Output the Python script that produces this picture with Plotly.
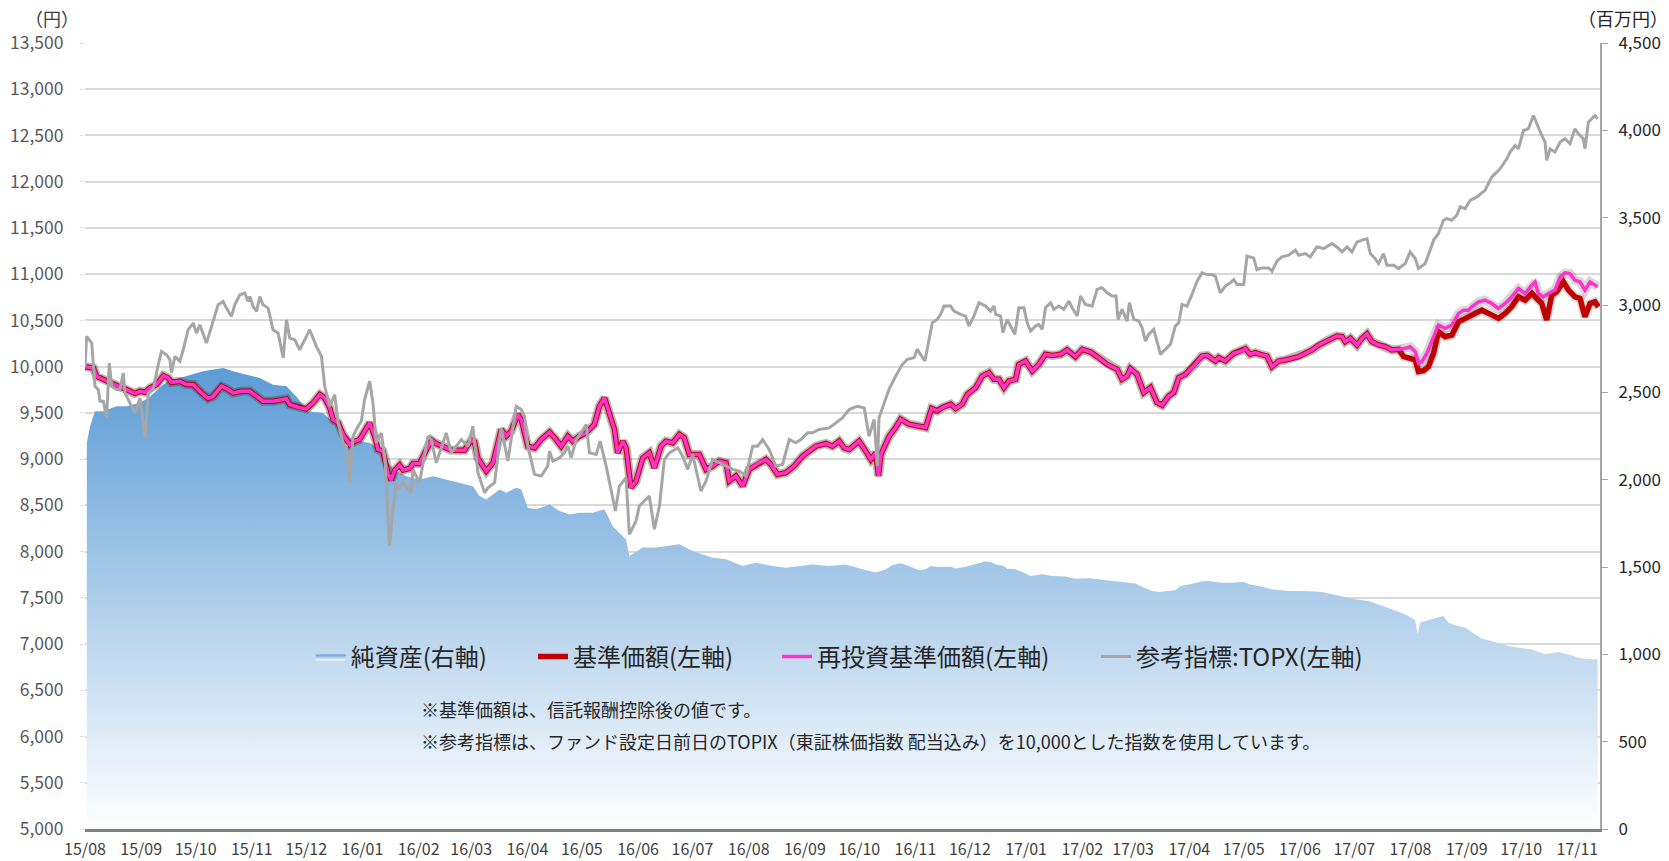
import pandas as pd
import plotly.graph_objects as go

START = pd.Timestamp("2015-08-01")

# ---- data (day offsets from 2015-08-01, values) ----
# 参考指標：TOPIX (left axis, yen-index)
topix_days = [0, 0.9, 3.7, 4.6, 5.5, 7.3, 8.3, 10.1, 11.9, 13.4, 14.7, 17.4, 19.3, 21.1, 22.0, 24.8, 27.5, 30.3,
              33.1, 34.9, 37.6, 40.4, 42.2, 45.0, 46.8, 47.7, 49.6, 52.3, 54.2, 56.9, 59.7, 61.5, 63.3, 67.0, 70.7,
              73.4, 76.2, 78.0, 80.8, 82.6, 85.4, 88.1, 90.0, 90.9, 92.7, 94.6, 96.4, 98.2, 101.0, 103.7, 106.5,
              109.3, 111.1, 112.9, 115.7, 118.4, 122.1, 123.9, 127.6, 130.4, 132.2, 135.0, 137.7, 139.6, 142.3,
              144.1, 146.0, 147.8, 150.6, 152.4, 154.2, 157.0, 158.8, 160.7, 163.4, 165.3, 168.0, 169.8, 171.7,
              173.5, 175.4, 178.1, 180.0, 180.9, 184.5, 186.4, 189.1, 191.0, 193.7, 195.6, 199.2, 202.0, 204.7,
              207.5, 211.2, 213.9, 216.7, 220.4, 222.2, 225.9, 229.5, 233.2, 235.0, 237.8, 240.6, 242.4, 244.2,
              247.9, 251.6, 255.2, 256.2, 258.0, 261.7, 264.4, 266.3, 268.1, 270.9, 273.6, 276.4, 278.2, 281.9,
              284.1, 287.4, 290.1, 292.5, 294.7, 298.4, 300.2, 303.9, 305.7, 309.4, 311.2, 314.0, 316.8, 319.5,
              322.3, 326.9, 329.6, 332.4, 335.1, 339.7, 342.5, 346.1, 349.8, 352.6, 357.2, 360.8, 364.5, 368.2,
              370.9, 373.7, 377.3, 381.0, 384.7, 388.4, 392.0, 394.8, 398.5, 401.2, 404.9, 410.4, 414.1, 417.7,
              421.4, 426.0, 429.7, 432.4, 435.2, 437.0, 437.9, 439.7, 443.4, 447.1, 450.8, 453.5, 457.2, 459.0,
              463.2, 467.3, 470.0, 471.9, 473.7, 477.4, 479.2, 482.9, 485.6, 487.5, 490.2, 493.0, 496.7, 499.4,
              501.3, 502.2, 504.9, 506.2, 508.6, 510.4, 512.8, 515.0, 517.8, 519.6, 521.5, 524.2, 526.0, 527.9,
              529.7, 532.5, 534.3, 537.1, 539.8, 542.6, 544.4, 547.2, 549.0, 551.7, 555.4, 558.2, 560.9, 563.7,
              566.4, 568.6, 569.7, 571.9, 574.7, 576.0, 578.4, 581.1, 583.0, 584.8, 586.6, 589.4, 593.1, 595.8,
              598.6, 601.3, 603.2, 605.0, 607.8, 610.5, 613.3, 616.0, 618.8, 621.5, 623.4, 626.1, 628.9, 631.6,
              633.5, 635.3, 639.0, 640.8, 644.5, 646.3, 649.1, 652.7, 654.6, 657.3, 660.1, 663.8, 667.5, 669.3,
              673.0, 675.7, 679.4, 683.1, 687.7, 690.4, 693.2, 696.0, 698.7, 701.5, 704.2, 707.0, 708.8, 711.5,
              713.4, 716.1, 718.0, 721.7, 724.4, 728.1, 730.8, 733.6, 735.4, 739.1, 741.8, 743.7, 746.4, 749.2,
              751.0, 753.8, 756.5, 758.4, 761.1, 763.9, 767.6, 772.1, 775.8, 780.4, 784.1, 785.9, 788.7, 790.5,
              793.3, 796.0, 798.8, 800.6, 803.4, 805.2, 806.1, 808.0, 810.7, 813.5, 816.2, 818.9, 821.7, 823.6,
              826.3, 827.2, 829.1, 832.7, 834.2]
topix_vals = [10000, 10327, 10255, 10040, 9788, 9752, 9626, 9626, 9446, 10040, 9788, 9752, 9752, 9932, 9716, 9608,
              9500, 9662, 9230, 9716, 9752, 10022, 10165, 10129, 10076, 9932, 10112, 10058, 10183, 10399, 10471,
              10363, 10453, 10255, 10507, 10669, 10705, 10633, 10543, 10669, 10777, 10795, 10705, 10759, 10651,
              10597, 10759, 10669, 10633, 10399, 10363, 10094, 10507, 10309, 10291, 10183, 10327, 10399, 10219,
              10112, 9788, 9572, 9698, 9392, 9176, 9140, 8745, 9248, 9356, 9410, 9644, 9842, 9608, 9176, 9284,
              9032, 8061, 8457, 8745, 8673, 8763, 8673, 8637, 8889, 8745, 8960, 9248, 9212, 8960, 9068, 9284,
              9068, 9140, 9212, 9140, 9356, 8853, 8637, 8691, 8745, 9338, 8979, 9212, 9572, 9536, 9464, 9140,
              8835, 8817, 8925, 9086, 8979, 9014, 9068, 9140, 9014, 9212, 9284, 9374, 9068, 9050, 9194, 8925,
              8673, 8439, 8709, 8799, 8187, 8331, 8493, 8565, 8601, 8241, 8493, 8996, 9068, 9122, 9032, 8889,
              9050, 8655, 8763, 8996, 8960, 8925, 8889, 8871, 8817, 9140, 9140, 9212, 9104, 8925, 8942, 9212,
              9176, 9212, 9284, 9284, 9320, 9338, 9392, 9446, 9536, 9572, 9554, 9248, 9428, 8925, 9446, 9540,
              9755, 9899, 10025, 10079, 10097, 10187, 10061, 10475, 10511, 10565, 10655, 10655, 10601, 10565,
              10547, 10439, 10547, 10691, 10655, 10601, 10655, 10565, 10547, 10367, 10511, 10439, 10349, 10637,
              10637, 10475, 10385, 10439, 10457, 10403, 10637, 10691, 10619, 10655, 10619, 10709, 10637, 10547,
              10763, 10673, 10655, 10835, 10853, 10799, 10763, 10763, 10511, 10619, 10493, 10691, 10511, 10493,
              10421, 10277, 10349, 10403, 10133, 10187, 10241, 10439, 10475, 10673, 10655, 10781, 10924, 11014,
              10996, 10996, 10978, 10799, 10871, 10907, 10942, 10889, 10889, 11194, 11176, 11050, 11068, 11068,
              11032, 11140, 11187, 11205, 11259, 11205, 11223, 11187, 11295, 11277, 11331, 11295, 11241, 11295,
              11241, 11349, 11367, 11385, 11223, 11169, 11115, 11223, 11097, 11097, 11061, 11115, 11241, 11169,
              11061, 11115, 11259, 11367, 11439, 11583, 11601, 11583, 11637, 11727, 11709, 11799, 11835, 11907,
              12050, 12140, 12248, 12320, 12392, 12356, 12554, 12572, 12716, 12626, 12500, 12428, 12230, 12356,
              12320, 12428, 12464, 12410, 12572, 12518, 12464, 12356, 12644, 12716, 12680]

# 基準価額 / 再投資基準価額 (identical until late July 2017)
nav_days = [0, 4.6, 6.4, 10.1, 13.8, 18.4, 23.0, 27.5, 30.3, 33.1, 35.8, 39.5, 43.2, 45.9, 47.7, 52.3, 56.0, 59.7,
            63.3, 67.9, 70.7, 75.3, 79.0, 81.7, 86.3, 90.9, 94.6, 98.2, 103.7, 108.3, 111.1, 112.9, 118.4, 122.1,
            125.8, 129.5, 132.2, 135.0, 136.8, 139.6, 142.3, 146.0, 148.7, 151.5, 154.2, 157.0, 159.7, 161.6,
            164.3, 167.1, 168.9, 170.8, 173.5, 175.4, 179.0, 180.9, 184.5, 188.2, 191.0, 193.7, 197.4, 202.0,
            205.7, 209.3, 213.0, 214.8, 216.7, 221.3, 225.0, 229.5, 232.3, 235.0, 238.7, 240.6, 244.2, 247.9,
            251.6, 256.2, 259.8, 262.6, 266.3, 269.0, 272.7, 276.4, 280.9, 283.7, 286.5, 289.2, 292.0, 293.8,
            296.6, 298.4, 301.1, 303.9, 307.6, 311.2, 314.0, 317.7, 320.4, 324.1, 327.8, 330.5, 333.3, 338.8,
            342.5, 346.1, 349.8, 353.5, 355.3, 359.0, 362.7, 366.3, 371.8, 375.5, 378.3, 381.9, 386.5, 391.1,
            395.7, 399.4, 403.1, 408.6, 412.2, 415.9, 418.7, 421.4, 426.9, 430.6, 433.4, 436.1, 437.6, 438.9,
            443.5, 447.1, 449.8, 454.4, 459.0, 463.6, 466.9, 470.0, 472.8, 477.4, 480.1, 483.8, 486.6, 491.2,
            494.8, 498.5, 501.3, 504.0, 506.8, 509.5, 513.2, 515.0, 518.7, 522.4, 526.0, 529.7, 533.4, 538.0,
            541.6, 546.2, 549.9, 554.5, 558.2, 563.7, 569.2, 571.9, 574.7, 576.5, 580.2, 583.9, 587.6, 591.2,
            594.0, 597.7, 600.4, 603.2, 606.8, 611.4, 616.0, 618.8, 623.4, 625.2, 628.9, 633.5, 638.1, 639.9,
            642.6, 645.4, 648.2, 651.8, 654.6, 658.3, 662.0, 665.6, 669.3, 673.0, 676.7, 680.3, 684.0, 687.7,
            690.4, 693.2, 695.0, 697.8, 701.5, 704.2, 707.0, 709.7, 713.4, 717.1, 720.7, 724.4]
nav_vals = [10000, 9986, 9896, 9860, 9824, 9788, 9752, 9709, 9734, 9723, 9770, 9806, 9903, 9878, 9831, 9842, 9806,
            9806, 9734, 9655, 9680, 9788, 9752, 9716, 9734, 9734, 9680, 9626, 9626, 9637, 9651, 9590, 9554, 9543,
            9608, 9698, 9662, 9554, 9428, 9392, 9266, 9158, 9194, 9212, 9302, 9392, 9248, 9104, 9086, 8845, 8773,
            8881, 8935, 8881, 8899, 8953, 8953, 9097, 9205, 9169, 9133, 9097, 9097, 9097, 9205, 9187, 9007, 8870,
            8960, 9320, 9248, 9302, 9482, 9428, 9140, 9122, 9212, 9291, 9212, 9140, 9248, 9194, 9248, 9284, 9374,
            9572, 9662, 9500, 9320, 9068, 9194, 9122, 8691, 8763, 9014, 9068, 8906, 9140, 9194, 9176, 9266, 9230,
            9050, 9050, 8889, 8925, 8978, 8960, 8763, 8817, 8709, 8889, 8960, 8996, 8942, 8835, 8853, 8925, 9032,
            9086, 9140, 9169, 9140, 9194, 9122, 9104, 9194, 9086, 8996, 9068, 8817, 9050, 9248, 9342, 9432, 9378,
            9360, 9342, 9547, 9522, 9558, 9594, 9547, 9594, 9701, 9773, 9899, 9935, 9863, 9863, 9773, 9845, 9863,
            10025, 10061, 9953, 10025, 10133, 10122, 10133, 10180, 10108, 10187, 10158, 10108, 10025, 9971, 9863,
            9899, 9978, 9917, 9719, 9773, 9612, 9583, 9683, 9719, 9881, 9917, 10007, 10115, 10122, 10061, 10097,
            10061, 10144, 10169, 10194, 10133, 10151, 10133, 10115, 10000, 10061, 10072, 10090, 10108, 10144,
            10180, 10234, 10270, 10306, 10331, 10324, 10270, 10306, 10234, 10306, 10353, 10270, 10234, 10216,
            10180, 10187]

# 基準価額 after divergence
nav_tail_days = [727.2, 730.8, 733.6, 735.4, 738.2, 740.9, 743.7, 746.4, 750.1, 753.8, 757.5, 760.2, 763.0, 766.6,
                 770.3, 774.0, 779.5, 783.2, 786.8, 790.5, 794.2, 797.9, 799.7, 803.4, 806.1, 808.9, 811.6, 815.3,
                 818.1, 821.7, 824.5, 827.2, 830.0, 832.7, 834.6]
nav_tail_vals = [10108, 10090, 10072, 9946, 9957, 10000, 10144, 10378, 10324, 10342, 10486, 10511, 10540, 10576,
                 10611, 10576, 10522, 10576, 10647, 10755, 10719, 10791, 10755, 10683, 10504, 10773, 10809, 10917,
                 10827, 10755, 10737, 10540, 10683, 10701, 10647]

# 再投資基準価額 after divergence
re_tail_days = [728.1, 730.8, 733.6, 735.4, 737.3, 740.0, 743.7, 746.4, 750.1, 753.8, 757.5, 760.2, 763.0, 764.8,
                768.5, 772.1, 775.8, 779.5, 783.2, 786.8, 790.5, 794.2, 797.9, 799.7, 801.5, 804.3, 807.0, 810.7,
                813.5, 816.2, 818.9, 821.7, 824.5, 827.2, 830.0, 832.7, 834.2]
re_tail_vals = [10198, 10216, 10162, 10036, 10054, 10144, 10324, 10450, 10414, 10450, 10576, 10611, 10611, 10647,
                10701, 10719, 10683, 10629, 10683, 10755, 10845, 10791, 10881, 10917, 10791, 10755, 10791, 10827,
                10971, 11014, 11007, 10935, 10917, 10827, 10917, 10881, 10863]

# 純資産 (right axis, million yen)
aum_days = [1, 2.8, 5.5, 10.1, 17.4, 23.0, 30.3, 34.9, 45, 55, 61.5, 65.2, 76.2, 81.7, 89.1, 96.4, 103.7, 111.1,
            117, 123.0, 131.3, 139, 147.8, 157.0, 162.5, 169.8, 177.2, 184.5, 191.9, 199.2, 206.6, 213.9, 217.6,
            221.3, 228.6, 232.3, 237.8, 240.6, 244.2, 248.8, 256.2, 261.7, 267.2, 272.7, 280.0, 286.5, 291.0,
            294.7, 298.4, 300.2, 307.6, 314.9, 320.4, 327.8, 335.1, 346.1, 353.5, 362.7, 370.0, 379.2, 386.5,
            393.9, 401.2, 410.4, 419.6, 428.8, 436.1, 441.6, 445.2, 449.8, 454.4, 459.9, 463.6, 466.4, 471.0,
            477.4, 480.1, 485.6, 489.3, 493.0, 495.7, 499.4, 502.2, 506.8, 508.6, 513.2, 516.9, 521.5, 527.9,
            533.4, 540.7, 546.2, 553.6, 559.1, 566.4, 573.8, 579.3, 583.9, 588.5, 592.1, 597.7, 601.3, 604.1,
            609.6, 616.0, 619.7, 627.0, 632.5, 639.0, 641.7, 647.2, 654.6, 663.7, 672.9, 682.1, 687.6, 695.0,
            700.5, 707.8, 715.2, 720.7, 728.0, 733.5, 735.0, 736.3, 740.9, 746.4, 749.1, 751.9, 755.6, 761.1,
            766.6, 770.2, 775.7, 783.1, 790.4, 797.8, 805.1, 812.5, 819.8, 825.3, 830.8, 834.2]
aum_vals = [2210, 2306, 2392, 2392, 2420, 2420, 2440, 2468, 2560, 2590, 2611, 2620, 2640, 2620, 2601, 2582, 2544,
            2535, 2470, 2392, 2382, 2310, 2221, 2212, 2173, 2058, 2020, 2001, 2020, 2001, 1982, 1963, 1906, 1887,
            1944, 1925, 1954, 1944, 1839, 1830, 1858, 1820, 1801, 1811, 1811, 1830, 1734, 1696, 1658, 1563, 1611,
            1611, 1620, 1630, 1591, 1553, 1544, 1506, 1525, 1506, 1496, 1506, 1515, 1506, 1515, 1487, 1468, 1487,
            1510, 1521, 1506, 1482, 1487, 1506, 1500, 1502, 1492, 1502, 1510, 1521, 1532, 1530, 1515, 1506, 1490,
            1487, 1471, 1448, 1458, 1448, 1445, 1433, 1435, 1429, 1420, 1410, 1406, 1382, 1363, 1357, 1363, 1367,
            1391, 1401, 1418, 1420, 1410, 1410, 1416, 1401, 1391, 1372, 1363, 1363, 1357, 1344, 1330, 1315, 1306,
            1281, 1258, 1229, 1197, 1115, 1181, 1197, 1215, 1220, 1181, 1166, 1152, 1115, 1090, 1077, 1052, 1038,
            1029, 1000, 1014, 995, 976, 972, 972]


def to_dates(days):
    return START + pd.to_timedelta(days, unit="D")


red_days = nav_days + nav_tail_days
red_vals = nav_vals + nav_tail_vals
pink_days = nav_days + re_tail_days
pink_vals = nav_vals + re_tail_vals

FONT = "Noto Sans CJK JP"
LEG_FONT = dict(size=24, color="#262626", family=FONT)

fig = go.Figure()

fig.add_trace(go.Scatter(
    x=to_dates(aum_days), y=aum_vals, yaxis="y", name="純資産(右軸)", legend="legend",
    mode="lines", line=dict(width=0, color="#5b9bd5"), fill="tozeroy",
    fillgradient=dict(type="vertical", start=0, stop=2650,
                      colorscale=[[0, "#ffffff"], [1, "#5b9bd5"]]),
    hoverinfo="skip"))

# soft shadow under the fund lines
fig.add_trace(go.Scatter(x=to_dates(red_days), y=red_vals, yaxis="y2", mode="lines",
                         line=dict(width=9, color="rgba(60,60,60,0.2)"), showlegend=False, hoverinfo="skip"))
fig.add_trace(go.Scatter(x=to_dates(pink_days), y=pink_vals, yaxis="y2", mode="lines",
                         line=dict(width=9, color="rgba(60,60,60,0.2)"), showlegend=False, hoverinfo="skip"))

fig.add_trace(go.Scatter(x=to_dates(red_days), y=red_vals, yaxis="y2", mode="lines", name="基準価額(左軸)",
                         legend="legend2", line=dict(width=5.5, color="#c00000")))
fig.add_trace(go.Scatter(x=to_dates(pink_days), y=pink_vals, yaxis="y2", mode="lines", name="再投資基準価額(左軸)",
                         legend="legend3", line=dict(width=3.5, color="#ff33cc")))
fig.add_trace(go.Scatter(x=to_dates(topix_days), y=topix_vals, yaxis="y2", mode="lines", name="参考指標:TOPX(左軸)",
                         legend="legend4", line=dict(width=3, color="#a6a6a6")))


def leg(xpaper):
    return dict(orientation="h", x=xpaper, y=0.219, xanchor="left", yanchor="middle",
                font=LEG_FONT, bgcolor="rgba(0,0,0,0)", borderwidth=0)


fig.update_layout(
    width=1669, height=861,
    margin=dict(l=85, r=69, t=43, b=32, autoexpand=False),
    paper_bgcolor="white", plot_bgcolor="white",
    font=dict(family=FONT, color="#262626"),
    showlegend=True,
    legend=leg(0.1490), legend2=leg(0.2957), legend3=leg(0.4568), legend4=leg(0.6673),
    xaxis=dict(type="date", range=[START, to_dates([835.5])[0]], tick0="2015-08-01", dtick="M1",
               tickformat="%y/%m", showgrid=False, showline=True, linecolor="#808080", linewidth=3,
               ticks="", tickfont=dict(size=16, color="#404040", family=FONT), zeroline=False,
               automargin=False, ticklabelstandoff=4),
    yaxis=dict(side="right", range=[0, 4500], dtick=500, tickformat=",", showgrid=False, zeroline=False,
               showline=True, linecolor="#a6a6a6", linewidth=2, ticks="outside", ticklen=6,
               tickcolor="#a6a6a6", tickfont=dict(size=17, color="#262626", family=FONT),
               ticklabelstandoff=7, automargin=False),
    yaxis2=dict(side="left", overlaying="y", range=[5000, 13500], dtick=500, tickformat=",",
                showgrid=True, gridcolor="#d9d9d9", gridwidth=1.5, zeroline=False, showline=False,
                ticks="outside", ticklen=4, tickcolor="#e0e0e0",
                tickfont=dict(size=17.5, color="#595959", family=FONT), ticklabelstandoff=13,
                automargin=False),
    annotations=[
        dict(text="（円）", xref="paper", yref="paper", x=-0.0218, y=1.0318, xanchor="center",
             yanchor="middle", showarrow=False, font=dict(size=18, color="#404040", family=FONT)),
        dict(text="（百万円）", xref="paper", yref="paper", x=1.0150, y=1.0318, xanchor="center",
             yanchor="middle", showarrow=False, font=dict(size=18, color="#262626", family=FONT)),
        dict(text="※基準価額は、信託報酬控除後の値です。", xref="paper", yref="paper", x=0.2205, y=0.1530,
             xanchor="left", yanchor="middle", showarrow=False, font=dict(size=18, color="#262626", family=FONT)),
        dict(text="※参考指標は、ファンド設定日前日のTOPIX（東証株価指数 配当込み）を10,000とした指数を使用しています。",
             xref="paper", yref="paper", x=0.2205, y=0.1122, xanchor="left", yanchor="middle", showarrow=False,
             font=dict(size=18, color="#262626", family=FONT)),
    ],
)

fig.write_html("out.html", config={"displayModeBar": False},
               post_script="document.body.style.margin='0px';")
